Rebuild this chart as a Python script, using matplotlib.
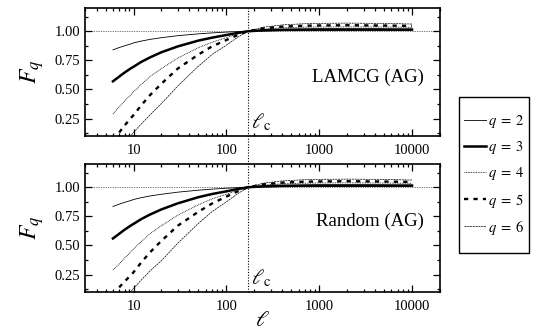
import numpy as np
import matplotlib
matplotlib.use("Agg")
import matplotlib.pyplot as plt
import matplotlib.transforms as mtransforms
from matplotlib.lines import Line2D
from matplotlib.patches import Rectangle
from matplotlib.ticker import FixedLocator, FixedFormatter, MultipleLocator, FormatStrFormatter, NullFormatter

plt.rcParams['font.family'] = ['Liberation Serif', 'DejaVu Serif']
plt.rcParams['mathtext.fontset'] = 'stix'

# ---------------- data ----------------
nan = np.nan
ell = [6, 7, 8, 9.5, 10, 12, 15, 20, 30, 50, 70, 100, 130, 170, 250, 400, 700, 1000, 2000, 4000, 7000, 10000]
ell_c = 170

panel_titles = ["LAMCG (AG)", "Random (AG)"]
q_labels = [r"$q\;=\;2$", r"$q\;=\;3$", r"$q\;=\;4$", r"$q\;=\;5$", r"$q\;=\;6$"]

# LAMCG (AG)
lamcg_q2 = [0.84, 0.86, 0.875, 0.893, 0.90, 0.915, 0.93, 0.945, 0.962, 0.978, 0.986, 0.993, 0.997, 1.0, 1.003, 1.005, 1.006, 1.006, 1.006, 1.006, 1.006, 1.006]
lamcg_q3 = [0.57, 0.61, 0.645, 0.685, 0.695, 0.735, 0.775, 0.82, 0.87, 0.92, 0.945, 0.968, 0.985, 1.0, 1.008, 1.013, 1.015, 1.016, 1.016, 1.016, 1.015, 1.015]
lamcg_q4 = [0.29, 0.35, 0.40, 0.46, 0.48, 0.54, 0.61, 0.68, 0.77, 0.86, 0.905, 0.945, 0.975, 1.0, 1.018, 1.03, 1.035, 1.037, 1.038, 1.037, 1.035, 1.034]
lamcg_q5 = [nan, 0.13, 0.19, 0.26, 0.28, 0.36, 0.45, 0.55, 0.68, 0.80, 0.87, 0.925, 0.965, 1.0, 1.025, 1.04, 1.048, 1.05, 1.052, 1.05, 1.048, 1.046]
lamcg_q6 = [nan, nan, nan, 0.11, 0.13, 0.20, 0.28, 0.38, 0.53, 0.70, 0.80, 0.88, 0.945, 1.0, 1.035, 1.055, 1.065, 1.068, 1.07, 1.068, 1.065, 1.062]

# Random (AG)
random_q2 = [0.835, 0.855, 0.87, 0.888, 0.895, 0.91, 0.925, 0.94, 0.958, 0.975, 0.984, 0.992, 0.996, 1.0, 1.003, 1.005, 1.006, 1.006, 1.006, 1.006, 1.006, 1.006]
random_q3 = [0.56, 0.60, 0.635, 0.675, 0.685, 0.725, 0.765, 0.81, 0.862, 0.915, 0.942, 0.965, 0.984, 1.0, 1.008, 1.013, 1.015, 1.016, 1.016, 1.016, 1.015, 1.015]
random_q4 = [0.29, 0.34, 0.39, 0.45, 0.47, 0.53, 0.60, 0.67, 0.76, 0.85, 0.90, 0.94, 0.972, 1.0, 1.018, 1.03, 1.035, 1.037, 1.038, 1.037, 1.035, 1.034]
random_q5 = [nan, 0.14, 0.19, 0.25, 0.27, 0.35, 0.44, 0.54, 0.67, 0.79, 0.86, 0.92, 0.962, 1.0, 1.025, 1.04, 1.048, 1.05, 1.052, 1.05, 1.048, 1.046]
random_q6 = [nan, nan, nan, 0.11, 0.13, 0.20, 0.28, 0.37, 0.52, 0.69, 0.79, 0.875, 0.94, 1.0, 1.035, 1.055, 1.065, 1.068, 1.07, 1.068, 1.065, 1.062]

panels = [
    [lamcg_q2, lamcg_q3, lamcg_q4, lamcg_q5, lamcg_q6],
    [random_q2, random_q3, random_q4, random_q5, random_q6],
]

styles = [
    dict(ls='-', lw=0.6),
    dict(ls='-', lw=1.8),
    dict(ls=(0, (1, 1)), lw=0.6),
    dict(ls=(0, (1.8, 2.2)), lw=1.7),
    dict(ls=(0, (3, 1)), lw=0.5),
]

# ---------------- figure ----------------
W, H = 536, 332
fig = plt.figure(figsize=(W / 100, H / 100), dpi=100)

def ax_rect(x0, y0, x1, y1):
    return [x0 / W, 1 - y1 / H, (x1 - x0) / W, (y1 - y0) / H]

axes = [fig.add_axes(ax_rect(85, 8, 440, 136)), fig.add_axes(ax_rect(85, 164, 440, 292))]
title_y = [0.46, 0.55]

handles = []
for i, (ax, series) in enumerate(zip(axes, panels)):
    for vals, st, lab in zip(series, styles, q_labels):
        ln, = ax.plot(ell, vals, color='black', label=lab, **st)
        if i == 0:
            handles.append(ln)
    ax.axhline(1.0, color='black', lw=0.5, ls=(0, (1, 1.5)))
    ax.set_xscale('log')
    ax.set_xlim(3, 20000)
    ax.set_ylim(0.1, 1.2)
    ax.xaxis.set_major_locator(FixedLocator([10, 100, 1000, 10000]))
    ax.xaxis.set_major_formatter(FixedFormatter(["10", "100", "1000", "10000"]))
    minors = [m * 10 ** e for e in range(0, 5) for m in range(2, 10)]
    ax.xaxis.set_minor_locator(FixedLocator(minors))
    ax.xaxis.set_minor_formatter(NullFormatter())
    ax.yaxis.set_major_locator(FixedLocator([0.25, 0.5, 0.75, 1.0]))
    ax.yaxis.set_major_formatter(FormatStrFormatter('%.2f'))
    ax.yaxis.set_minor_locator(MultipleLocator(0.125))
    ax.tick_params(which='both', direction='in', top=True, right=True, labelsize=10.5, width=0.9)
    ax.tick_params(axis='x', which='major', pad=6)
    ax.tick_params(which='major', length=5)
    ax.tick_params(which='minor', length=2.5)
    for sp in ax.spines.values():
        sp.set_linewidth(1.2)
    ax.set_ylabel("$F_q$", fontsize=17, labelpad=6)
    ax.text(0.955, title_y[i], panel_titles[i], transform=ax.transAxes, ha='right', va='center', fontsize=13.5)
    ax.text(ell_c * 1.08, 0.12, r"$\ell_{\rm c}$", fontsize=15, ha='left', va='bottom')

axes[1].set_xlabel(r"$\ell$", fontsize=16, labelpad=-1)

# vertical line at ell_c spanning both panels
trans = mtransforms.blended_transform_factory(axes[0].transData, fig.transFigure)
y_lo = 1 - 292 / H
y_hi = 1 - 8 / H
fig.add_artist(Line2D([ell_c, ell_c], [y_lo, y_hi], transform=trans, color='black', lw=0.8, ls=(0, (1, 1.5))))

# legend box drawn separately
bx0, by0, bx1, by1 = 459, 97, 529, 253
fig.add_artist(Rectangle((bx0 / W, 1 - by1 / H), (bx1 - bx0) / W, (by1 - by0) / H,
                         transform=fig.transFigure, fill=False, edgecolor='black', lw=1.0))
leg = fig.legend(handles=handles, loc='center', bbox_to_anchor=((bx0 + bx1) / 2 / W + 0.001, 1 - (by0 + by1) / 2 / H),
                 fontsize=10.5, frameon=False, handlelength=1.5, handletextpad=0.15,
                 labelspacing=0.62, borderpad=0, borderaxespad=0)

fig.savefig("out.png", dpi=100)
